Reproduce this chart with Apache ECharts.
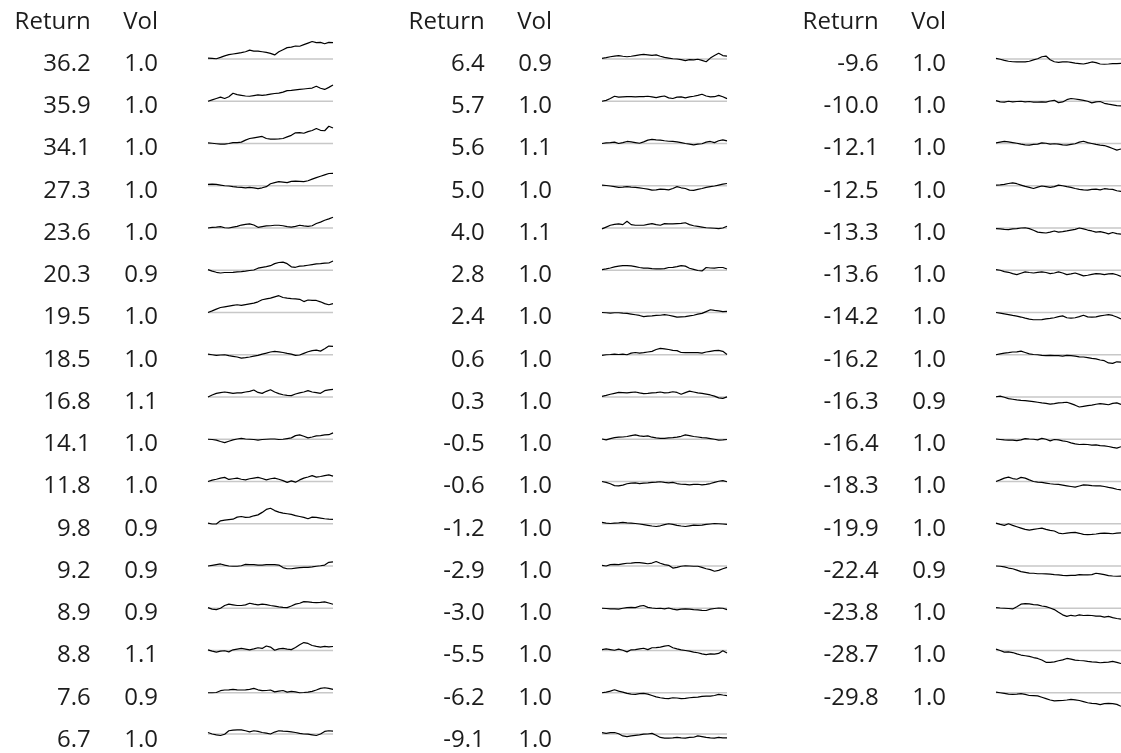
<!DOCTYPE html>
<html>
<head>
<meta charset="utf-8">
<script src="https://cdn.jsdelivr.net/npm/echarts@6/dist/echarts.min.js"></script>
<style>
html,body{margin:0;padding:0;background:#fff;}
#chart{width:1121px;height:753px;}
</style>
</head>
<body>
<div id="chart"></div>
<script>
// ---- data ----
var headerLabels = ['Return', 'Vol'];
var col1Returns = [36.2, 35.9, 34.1, 27.3, 23.6, 20.3, 19.5, 18.5, 16.8, 14.1, 11.8, 9.8, 9.2, 8.9, 8.8, 7.6, 6.7];
var col1Vols = [1.0, 1.0, 1.0, 1.0, 1.0, 0.9, 1.0, 1.0, 1.1, 1.0, 1.0, 0.9, 0.9, 0.9, 1.1, 0.9, 1.0];
var col2Returns = [6.4, 5.7, 5.6, 5.0, 4.0, 2.8, 2.4, 0.6, 0.3, -0.5, -0.6, -1.2, -2.9, -3.0, -5.5, -6.2, -9.1];
var col2Vols = [0.9, 1.0, 1.1, 1.0, 1.1, 1.0, 1.0, 1.0, 1.0, 1.0, 1.0, 1.0, 1.0, 1.0, 1.0, 1.0, 1.0];
var col3Returns = [-9.6, -10.0, -12.1, -12.5, -13.3, -13.6, -14.2, -16.2, -16.3, -16.4, -18.3, -19.9, -22.4, -23.8, -28.7, -29.8];
var col3Vols = [1.0, 1.0, 1.0, 1.0, 1.0, 1.0, 1.0, 1.0, 0.9, 1.0, 1.0, 1.0, 0.9, 1.0, 1.0, 1.0];

// cumulative return paths (%), sampled along the year
var col1Paths = [
  [2,1.5,0.5,3.5,7,9.5,11,12.5,14,16,19.5,17.5,17.5,16,14.5,12.5,9,16,20.5,25,26,28.5,28,31.5,35,38.5,36,36.5,33.5,36.5,36.2],
  [0,3,6,9,6,10,17.5,14.5,13,11.5,11,12.5,14,13,14,15.5,17,18,20,23.5,24,25,26,27,28,29,33,28.5,26,30.5,35.9],
  [1.5,0.5,-0.5,-1.5,-1.5,0,2,2,3,7.5,11,12.5,14,15.5,11,9.5,9.5,10,11,14.5,18,23.5,24,22.5,26,28.5,33,29,28,38,34.1],
  [3,3.5,3,1.5,0,-0.5,-2,-3,-3.5,-4.5,-3.5,-4.5,-6.5,-4.5,-2,4.5,7,9,8,7,9.5,10,9.5,9,11,14.5,18,21,24,27,27.3],
  [0,1.5,2,3,0.5,0,2,3.5,6.5,8,9,6.5,1.5,3,4.5,5,6,6,5,3,2,3.5,6,4.5,3.5,5,10,13,17,20,23.6],
  [1.5,-2,-4.5,-6,-5,-5,-4.5,-3.5,-3,-2,-0.5,0.5,4.5,6.5,8,10,14.5,17,18,14.5,7.5,6.5,9,9.5,11,12.5,14,14.5,15.5,16,20.3],
  [0,3.5,7.5,11,12.5,14,15.5,17,15.5,17.5,19,20.5,23.5,28,30,31.5,34.5,37,33,31.5,30.5,30,29,24,27.5,26.5,26.5,23.5,19.5,17,19.5],
  [1.5,0,-1.5,-0.5,0,-2,-3.5,-5,-7.5,-6.5,-5,-3,-1.5,1.5,3.5,6,7.5,6.5,5,3,1.5,-1.5,-0.5,3,6.5,9,10,8,13,19,18.5],
  [0,4.5,8,9.5,11,9.5,8,9,9,11,12.5,15.5,10,8,12.5,16,11,7.5,5,3.5,3,6.5,9,11,14,11,9.5,8,14,15.5,16.8],
  [0,-0.5,-2,-5,-7.5,-4.5,-1.5,0.5,2,0.5,0,-0.5,-2,-0.5,0,0.5,0.5,-0.5,0,1.5,3,8,9.5,6.5,3,5,7.5,8,9.5,10,14.1],
  [0,3,5,7.5,9,4.5,6,7.5,5,3.5,6,7.5,9,6.5,3.5,6,7.5,5,2,-2,1.5,-1.5,3.5,7.5,10,13,9.5,11,13,14.5,11.8],
  [1.5,-0.5,-0.5,6.5,8,9,10,14.5,16,14,14.5,17.5,19.5,25,31.5,34,29,25.5,23.5,22,20.5,18,16,14,11,14.5,14,12.5,11,10,9.8],
  [0,1.5,3,4.5,2,0,-0.5,-0.5,0.5,3.5,3,3,2,2,3,3,3,2,-3.5,-6,-6,-4.5,-3.5,-3,-3,-2,-0.5,0.5,2,8,9.2],
  [1.5,-2,-3,0,6,9,7.5,6,6,7.5,11,9,7.5,9,8,6,4.5,3,2,1.5,5,9,11,14.5,14,13,12.5,13,14,11.5,8.9],
  [1.5,-1.5,-3.5,-1.5,-0.5,-3,1.5,3,4.5,3,1.5,3.5,6,4.5,10,7.5,0.5,3.5,4.5,3,2,6.5,12.5,17.5,15.5,11,9,7.5,9,8,8.8],
  [0,0,0.5,4.5,6,6.5,7.5,6.5,6,6.5,7.5,9.5,6.5,4.5,5,6,2,3.5,5,1.5,3,2,0,0.5,1.5,3,6,9.5,11,9.5,7.6],
  [3.5,0,-2,-3.5,-0.5,7.5,9,9.5,9.5,7.5,5,7.5,6,3.5,2,0,4.5,7.5,6.5,6,5,3.5,1.5,0,-0.5,-2,-3.5,0,6,7.5,6.7]
];
var col2Paths = [
  [1.5,3,5,6.5,7.5,6,5,6,7.5,9,10,9,8,9,6,3.5,2,0.5,0,-1.5,-3.5,-1.5,-2,-0.5,-3,-6,2,7.5,12.5,7.5,6.4],
  [0,2,6,11,9,9.5,10,10,9.5,10,10,11,9.5,8,10,11.5,7.5,6,9,9.5,7.5,9.5,11,13,15.5,11.5,9.5,10,13,10,5.7],
  [0,1.5,2,3,0,2,4.5,3.5,2,0.5,3.5,7.5,9,8,7.5,6,5,4.5,3.5,2,0,-1.5,-3,-1.5,-0.5,3,4.5,2,6,8,5.6],
  [1.5,0.5,-0.5,-2,-3.5,-3,-2,-3,-3.5,-4.5,-6,-7.5,-9.5,-9,-7.5,-8,-9,-6,-2,-4.5,-6,-9.5,-10,-8,-6,-3.5,-2,-0.5,1.5,3.5,5.0],
  [-2,2,6,8,9,7.5,15,7.5,6,6,6,8,9.5,7.5,6,9.5,9,9,9.5,10,11.5,7.5,5,3.5,2,0.5,0,-0.5,-1.5,0,4.0],
  [1.5,3,5,7.5,9,10,10,9.5,8,6,4.5,4.5,3.5,3,3,3.5,6,6.5,8,10,9,4.5,2,-0.5,-1.5,6,5,4.5,6,6,2.8],
  [0,-0.5,-1.5,-0.5,-0.5,-1.5,-2,-3.5,-5,-6.5,-9,-8,-7.5,-6.5,-6,-4.5,-6,-8,-10,-9.5,-9,-7.5,-6,-3.5,-2,2,6,4.5,3.5,2,2.4],
  [-1.5,0,0.5,1.5,0.5,1.5,0,3.5,5,3.5,4.5,6,7.5,11.5,14,13,11.5,9.5,9,5,4.5,4.5,5,4.5,3.5,6,7.5,9,9.5,7.5,0.6],
  [1.5,3.5,6,8,10,9.5,9,10,11,9,7.5,8,9,9.5,11,9,9.5,11.5,10,6,9.5,13,11,9,8,6.5,4.5,2,-2,-3,0.3],
  [0.5,-1.5,1.5,3.5,4.5,5,6,8,9.5,7.5,6.5,7.5,4.5,3,2,2,3,3.5,4.5,6.5,9.5,8,6,5,3.5,3,1.5,0,-2,-1.5,-0.5],
  [0,-2,-5,-9,-9.5,-8,-5,-3.5,-3,-4.5,-3.5,-3,-2,-1.5,-0.5,-2,-3,-2,-4.5,-6,-6.5,-7.5,-6.5,-6,-7.5,-6.5,-4.5,-2,0.5,2,-0.6],
  [3,1.5,0.5,1.5,2,3,2,1.5,0.5,-0.5,-2,-3.5,-5,-6,-4.5,-2,0,-1.5,-3.5,-5,-6,-4.5,-3,-3.5,-3,-1.5,-0.5,0.5,0,-0.5,-1.2],
  [1.5,0,3,3.5,3,4.5,6,6.5,7.5,7.5,6.5,5,6.5,10,6,3,1.5,-4.5,-3,-0.5,0.5,0,-0.5,-0.5,-3,-6,-8,-11.5,-9.5,-6,-2.9],
  [0,-0.5,-1.5,-1.5,-2,0,1.5,2,1.5,4.5,6,2,0.5,-0.5,0,-1.5,0.5,-2,-3.5,-2,-1.5,-2,-3,-3.5,-4.5,-5,-2,-0.5,0.5,0,-3.0],
  [2,3.5,2,0.5,3,0.5,-3,1.5,2,3.5,5,2,6,6.5,7.5,9.5,11,6,3.5,1.5,0,-1.5,-3.5,-5,-7.5,-9,-7.5,-8,-6.5,-0.5,-5.5],
  [0,1.5,3.5,6.5,3.5,1.5,-1.5,-3,-3.5,-2,-1.5,-3,-6,-9,-11,-12.5,-13,-11,-11.5,-13,-12.5,-11,-10,-9.5,-8,-7.5,-7.5,-6,-3.5,-5,-6.2],
  [3,1.5,3,3.5,0.5,-4.5,-6,-4.5,-3,-2,-0.5,0,1.5,-3,-8,-9.5,-9.5,-9,-8,-9,-9.5,-8,-7.5,-4.5,-6,-8,-9,-9.5,-8,-9,-9.1]
];
var col3Paths = [
  [1.5,-0.5,-3,-5,-6,-6.5,-6,-6.5,-5,-2,0.5,5,6.5,-1.5,-6,-7.5,-6.5,-6,-7.5,-9,-10,-11,-9,-6.5,-8,-11,-11.5,-11,-10,-10,-9.6],
  [1.5,-1.5,-2,0,-1.5,-0.5,0,-1.5,-0.5,-2,-2,-1.5,-2,0.5,2,-3,-1.5,3.5,6,5,3.5,2,0,-3.5,-1.5,-0.5,-4.5,-6.5,-8,-9.5,-10.0],
  [1.5,3,4.5,3.5,2,0.5,-1.5,-3,-3.5,-2,-1.5,1.5,0.5,-1.5,-0.5,-1.5,-3,-3.5,-2,-0.5,3,5,2,0,-2,-3.5,-4.5,-7.5,-11,-14.5,-12.1],
  [1.5,2,3,5,6.5,4.5,1.5,-1.5,-3.5,-6,-3,-0.5,-2,-3.5,-2,1.5,0,-2,-3.5,-6,-8,-9,-9.5,-8,-7.5,-9,-6.5,-7.5,-8,-11,-12.5],
  [-1.5,-2,-3,-3.5,-2,-1.5,0,0.5,-1.5,-5,-9,-10,-11,-9,-6.5,-9,-8,-6.5,-4.5,-3,0,-2,-4.5,-6.5,-9,-8,-10,-13,-10,-12.5,-13.3],
  [1.5,0,-3,-4.5,-7.5,-9.5,-6.5,-3.5,-5,-6,-4.5,-3.5,-5,-7.5,-6,-3.5,-6,-9.5,-8,-6,-9,-12.5,-11,-9,-7.5,-8,-9.5,-8,-7.5,-10,-13.6],
  [0,-1.5,-3,-4.5,-6.5,-8,-10,-12.5,-14.5,-16,-16,-15.5,-14,-13,-11.5,-9,-7.5,-11.5,-12.5,-11.5,-9,-6,-9.5,-10,-9.5,-7.5,-6,-4.5,-6.5,-10,-14.2],
  [0,2,3.5,4.5,6,6.5,8,5,2,0.5,0,-1.5,-2,-1.5,-2,-2,-3,-1.5,-2,-3,-4.5,-5,-6.5,-8,-9,-11.5,-13,-18,-19,-15.5,-16.2],
  [0.5,2,-0.5,-3.5,-5,-6.5,-7.5,-8,-9,-10,-11.5,-13,-14,-15.5,-14.5,-13,-12.5,-11.5,-14.5,-18,-22,-20.5,-19,-18,-16,-14.5,-15.5,-17,-14,-13,-16.3],
  [0.5,-0.5,-1.5,-2,-2,-3,-1.5,1.5,0.5,0,-1.5,2,0,-3.5,-0.5,-1.5,-3.5,-5,-8,-10,-11.5,-11,-11.5,-13,-12.5,-14,-14.5,-16,-18,-19.5,-16.4],
  [0,3.5,7.5,9.5,6.5,5,9,7.5,3.5,0,-1.5,-2,-3.5,-5,-6,-6.5,-8,-9.5,-11,-12.5,-10,-7.5,-8,-9,-9.5,-9.5,-11,-13,-14.5,-17,-18.3],
  [1.5,-1.5,-3.5,0,-3.5,-6.5,-9.5,-12.5,-14,-12.5,-11,-9.5,-12.5,-14.5,-16,-20.5,-22,-20.5,-19.5,-19,-21,-23.5,-24,-23.5,-22.5,-21,-20.5,-21,-22,-20.5,-19.9],
  [0,-0.5,-2,-4.5,-6,-9,-12.5,-14,-15.5,-16,-17,-17,-17.5,-18,-19,-19.5,-20.5,-21,-20.5,-20.5,-19,-19.5,-19.5,-19,-16,-17.5,-19,-21,-22,-22.5,-22.4],
  [1.5,0.5,0,-0.5,-1.5,3.5,9,10,9.5,8,7.5,5,3.5,0.5,-3,-9,-14.5,-18,-15.5,-17,-14.5,-16,-15.5,-16,-17.5,-17.5,-19.5,-18,-20.5,-22.5,-23.8],
  [3,0,-3.5,-3,-4.5,-7.5,-10,-11.5,-13,-15.5,-17.5,-21,-26,-26,-25,-22.5,-20.5,-17.5,-19,-21,-22,-22.5,-24,-25,-25.5,-27,-26,-25.5,-24,-26,-28.7],
  [1.5,0,-1.5,-3,-3.5,-3,-2,-3.5,-6,-6.5,-7,-10,-13,-16,-18,-17.5,-17,-16,-14.5,-15.5,-17,-19.5,-22,-23.5,-24,-26,-24,-23.5,-24,-25.5,-29.8]
];
var BASELINE = 0;

// ---- layout ----
var columns = [
  {returns: col1Returns, vols: col1Vols, paths: col1Paths},
  {returns: col2Returns, vols: col2Vols, paths: col2Paths},
  {returns: col3Returns, vols: col3Vols, paths: col3Paths}
];
var COL_STEP = 394;
var SPARK_LEFT = 208, SPARK_W = 125;
var ROW0 = 59, ROW_STEP = 42.25;
var HALF_H = 20, YLIM = 44;
var RET_RIGHT = 90.7, VOL_RIGHT = 158;
var TEXT_DY = 5, HEADER_Y = 22.5;
var FONT = '24px "Open Sans", "Noto Sans", sans-serif';
var TEXT_COLOR = '#1c1c1c';

var grids = [], xAxes = [], yAxes = [], series = [], graphics = [];
var gi = 0;
columns.forEach(function (col, c) {
  var ox = c * COL_STEP;
  graphics.push({type: 'text', x: RET_RIGHT + ox, y: HEADER_Y,
    style: {text: headerLabels[0], font: FONT, fill: TEXT_COLOR, textAlign: 'right', textVerticalAlign: 'middle'}});
  graphics.push({type: 'text', x: VOL_RIGHT + ox, y: HEADER_Y,
    style: {text: headerLabels[1], font: FONT, fill: TEXT_COLOR, textAlign: 'right', textVerticalAlign: 'middle'}});
  col.returns.forEach(function (ret, r) {
    var base = ROW0 + r * ROW_STEP;
    graphics.push({type: 'text', x: RET_RIGHT + ox, y: base + TEXT_DY,
      style: {text: ret.toFixed(1), font: FONT, fill: TEXT_COLOR, textAlign: 'right', textVerticalAlign: 'middle'}});
    graphics.push({type: 'text', x: VOL_RIGHT + ox, y: base + TEXT_DY,
      style: {text: col.vols[r].toFixed(1), font: FONT, fill: TEXT_COLOR, textAlign: 'right', textVerticalAlign: 'middle'}});
    var path = col.paths[r];
    grids.push({left: SPARK_LEFT + ox, width: SPARK_W, top: base - HALF_H, height: HALF_H * 2, containLabel: false});
    xAxes.push({type: 'category', gridIndex: gi, show: false, boundaryGap: false,
      data: path.map(function (_, i) { return i; })});
    yAxes.push({type: 'value', gridIndex: gi, show: false, min: -YLIM, max: YLIM});
    series.push({type: 'line', xAxisIndex: gi, yAxisIndex: gi, z: 1, symbol: 'none', silent: true,
      data: path.map(function () { return BASELINE; }),
      lineStyle: {color: '#c8c8c8', width: 1.5}});
    series.push({type: 'line', xAxisIndex: gi, yAxisIndex: gi, z: 2, symbol: 'none', silent: true,
      data: path, lineStyle: {color: '#000', width: 1.2}});
    gi++;
  });
});

var chart = echarts.init(document.getElementById('chart'), null, {renderer: 'canvas'});
chart.setOption({
  animation: false,
  backgroundColor: '#fff',
  grid: grids,
  xAxis: xAxes,
  yAxis: yAxes,
  series: series,
  graphic: graphics
});
</script>
</body>
</html>
